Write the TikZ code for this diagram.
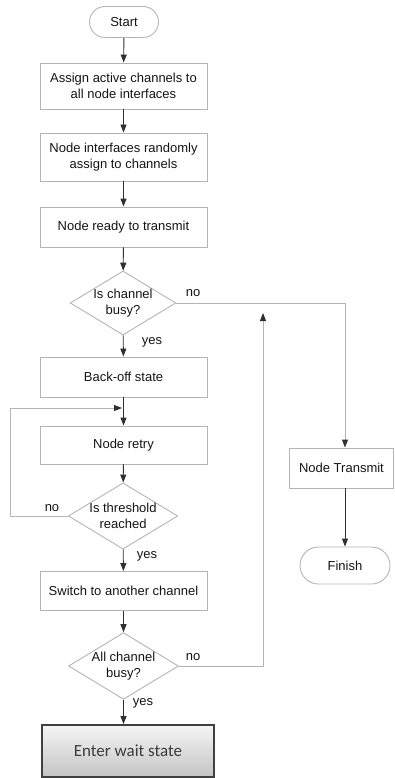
\documentclass[tikz,border=0pt]{standalone}
\usepackage{fontspec}
\setmainfont{Liberation Sans}
\newfontfamily\carl{Carlito}
\usetikzlibrary{shapes.geometric,shapes.misc,arrows.meta}
\definecolor{boxline}{HTML}{B4B4B4}
\definecolor{conn}{HTML}{303030}
\definecolor{txt}{HTML}{141414}
\tikzset{
  proc/.style={draw=boxline, line width=0.9pt, minimum width=167pt, inner sep=2pt, align=center, font=\fontsize{13}{16}\selectfont, text=txt},
  term/.style={draw=boxline, line width=0.9pt, rounded rectangle, inner sep=2pt, align=center, font=\fontsize{13}{16}\selectfont, text=txt},
  dec/.style={draw=boxline, line width=0.9pt, diamond, aspect=1.65, inner sep=0pt, minimum width=104pt, minimum height=63pt, align=center, font=\fontsize{13}{16}\selectfont, text=txt},
  flow/.style={draw=conn, line width=0.9pt, -{Triangle[length=8pt,width=6pt]}},
  garrow/.style={draw=boxline, line width=0.9pt, -{Triangle[length=8pt,width=6pt,fill=conn,color=conn]}},
  lbl/.style={font=\fontsize{13}{16}\selectfont, text=txt, inner sep=0pt}
}
\begin{document}
\begin{tikzpicture}[x=1pt,y=-1pt]
\useasboundingbox (0,0) rectangle (395,778);
\node[term, minimum width=73pt, minimum height=31pt] (start) at (124,22) {Start};
\node[proc, minimum height=46pt] (b1) at (123.5,86) {Assign active channels to\\all node interfaces};
\node[proc, minimum height=48pt] (b2) at (123.5,157) {Node interfaces randomly\\assign to channels};
\node[proc, minimum height=40pt] (b3) at (123.5,227) {Node ready to transmit};
\node[dec] (d1) at (123,303) {Is channel\\busy?};
\node[proc, minimum height=40pt] (b4) at (123.5,377) {Back-off state};
\node[proc, minimum height=38pt] (b5) at (123.5,445) {Node retry};
\node[dec] (d2) at (123,516) {Is threshold\\reached};
\node[proc, minimum height=39pt] (b6) at (123.5,591) {Switch to another channel};
\node[dec, minimum width=101pt, minimum height=62pt] (d3) at (123.5,666) {All channel\\busy?};
\node[draw={rgb,255:red,64;green,64;blue,64}, line width=1.8pt, top color={rgb,255:red,245;green,245;blue,245}, bottom color={rgb,255:red,196;green,196;blue,196}, minimum width=172pt, minimum height=52pt, font=\carl\fontsize{17}{20}\selectfont, text={rgb,255:red,60;green,60;blue,60}] (wait) at (128,751) {Enter wait state};
\node[proc, minimum width=104pt, minimum height=40pt, anchor=west] (nt) at (289,468) {Node Transmit};
\node[term, minimum width=94pt, minimum height=37pt] (fin) at (345,565.5) {Finish};

\coordinate (c1) at (345,303);
\coordinate (c2) at (263,666);
\coordinate (c3) at (263,313);
\coordinate (l1) at (10,516);
\coordinate (l2) at (10,408);
\coordinate (l3) at (122,408);

\draw[flow] (start) -- (b1);
\draw[flow] (b1) -- (b2);
\draw[flow] (b2) -- (b3);
\draw[flow] (b3) -- (d1);
\draw[flow] (d1) -- (b4);
\draw[flow] (b4) -- (b5);
\draw[flow] (b5) -- (d2);
\draw[flow] (d2) -- (b6);
\draw[flow] (b6) -- (d3);
\draw[flow] (d3.south) -- (d3.south |- wait.north);
\draw[garrow] (d1.east) -- (c1) -- (nt.north -| c1);
\draw[flow] (nt.south -| c1) -- (fin.north -| c1);
\draw[garrow] (d3.east) -- (c2) -- (c3);
\draw[garrow] (d2.west) -- (l1) -- (l2) -- (l3);

\node[lbl] (n1) at (193,293) {no};
\node[lbl] (y1) at (152,342) {yes};
\node[lbl] (n2) at (52,508) {no};
\node[lbl] (y2) at (147,556) {yes};
\node[lbl] (n3) at (193,657) {no};
\node[lbl] (y3) at (143,703) {yes};
\end{tikzpicture}
\end{document}
